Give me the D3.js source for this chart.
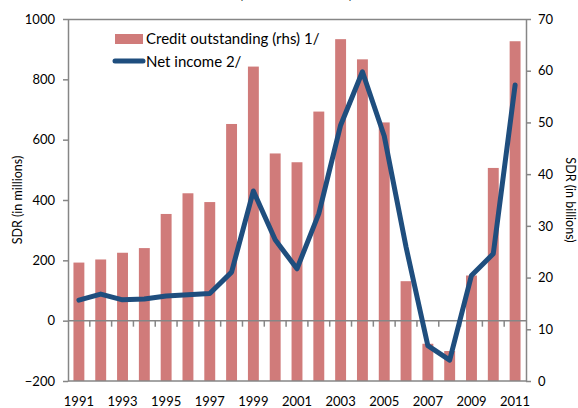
<!DOCTYPE html>
<html lang="en">
  <head>
    <meta charset="utf-8" />
    <title>Credit outstanding and net income</title>
    <script src="https://d3js.org/d3.v7.min.js"></script>
    <style>
      body { margin: 0; background: #fff; }
      text { font-family: Lato, "Open Sans", sans-serif; fill: #000; }
    </style>
  </head>
  <body>
    <div id="graph-container"></div>
    <script>
      // data
      const years = [1991, 1992, 1993, 1994, 1995, 1996, 1997, 1998, 1999, 2000,
        2001, 2002, 2003, 2004, 2005, 2006, 2007, 2008, 2009, 2010, 2011];
      // credit outstanding, SDR billions (rhs)
      const credit = [22.9, 23.5, 24.8, 25.7, 32.3, 36.3, 34.6, 49.7, 60.8, 44.0,
        42.3, 52.1, 66.1, 62.2, 50.0, 19.3, 7.2, 5.8, 20.4, 41.2, 65.7];
      // net income, SDR millions (lhs)
      const netIncome = [68, 88, 69, 72, 82, 86, 90, 161, 430, 268,
        172, 355, 648, 825, 612, 244, -83, -131, 150, 222, 781];
      const leftTicks = [-200, 0, 200, 400, 600, 800, 1000];
      const rightTicks = [0, 10, 20, 30, 40, 50, 60, 70];
      const xLabels = [1991, 1993, 1995, 1997, 1999, 2001, 2003, 2005, 2007, 2009, 2011];

      const cW = 578, cH = 408;
      const pLeft = 68, pRight = 526, pTop = 19, pBottom = 381;
      const cGray = "#868686", cBar = "#d07b7a", cLine = "#1f4e7e";

      const svg = d3.select("#graph-container").append("svg")
        .attr("width", cW).attr("height", cH);

      const xScale = d3.scaleBand().domain(years).range([pLeft, pRight])
        .paddingInner(0.5).paddingOuter(0.25);
      const yLeft = d3.scaleLinear().domain([-200, 1000]).range([pBottom, pTop]);
      const yRight = d3.scaleLinear().domain([0, 70]).range([pBottom, pTop]);

      // title, cut off at the top edge as in the source
      svg.append("text").attr("x", 296).attr("y", -1)
        .attr("text-anchor", "middle").style("font-size", "13px")
        .text("(In millions of SDRs)");

      // bars
      svg.append("g").selectAll("rect").data(credit).enter().append("rect")
        .attr("x", (d, i) => xScale(years[i]))
        .attr("width", xScale.bandwidth())
        .attr("y", (d) => yRight(d))
        .attr("height", (d) => yRight(0) - yRight(d))
        .attr("fill", cBar);

      // frame top
      svg.append("line").attr("x1", pLeft).attr("x2", pRight)
        .attr("y1", pTop + 0.5).attr("y2", pTop + 0.5)
        .attr("stroke", cGray).attr("stroke-width", 1.5);

      // left axis
      const leftAxis = svg.append("g")
        .attr("transform", `translate(${pLeft},0)`)
        .call(d3.axisLeft(yLeft).tickValues(leftTicks).tickFormat(d3.format("d"))
          .tickSize(5).tickPadding(8).tickSizeOuter(0));
      // right axis
      const rightAxis = svg.append("g")
        .attr("transform", `translate(${pRight},0)`)
        .call(d3.axisRight(yRight).tickValues(rightTicks).tickFormat(d3.format("d"))
          .tickSize(5).tickPadding(7).tickSizeOuter(0));
      [leftAxis, rightAxis].forEach((g) => {
        g.select(".domain").attr("stroke", cGray).attr("stroke-width", 1.5);
        g.selectAll(".tick line").attr("stroke", cGray).attr("stroke-width", 1.5);
        g.selectAll(".tick text").style("font-size", "13px").attr("font-family", null);
      });

      // bottom border
      svg.append("line").attr("x1", pLeft).attr("x2", pRight)
        .attr("y1", pBottom).attr("y2", pBottom)
        .attr("stroke", cGray).attr("stroke-width", 1.5);

      // zero line with category boundary ticks
      const y0 = yLeft(0);
      svg.append("line").attr("x1", pLeft).attr("x2", pRight)
        .attr("y1", y0).attr("y2", y0)
        .attr("stroke", cGray).attr("stroke-width", 1.5);
      const step = xScale.step();
      svg.append("g").selectAll("line").data(years.slice(1)).enter().append("line")
        .attr("x1", (d) => xScale(d) - step * 0.25)
        .attr("x2", (d) => xScale(d) - step * 0.25)
        .attr("y1", y0).attr("y2", y0 + 6)
        .attr("stroke", cGray).attr("stroke-width", 1.5);

      // year labels at the bottom
      svg.append("g").selectAll("text").data(xLabels).enter().append("text")
        .attr("x", (d) => xScale(d) + xScale.bandwidth() / 2)
        .attr("y", 406)
        .attr("text-anchor", "middle")
        .style("font-size", "13px")
        .text((d) => d);

      // net income line
      const line = d3.line()
        .x((d, i) => xScale(years[i]) + xScale.bandwidth() / 2)
        .y((d) => yLeft(d));
      svg.append("path").datum(netIncome)
        .attr("d", line)
        .attr("fill", "none")
        .attr("stroke", cLine)
        .attr("stroke-width", 5)
        .attr("stroke-linejoin", "round")
        .attr("stroke-linecap", "round");

      // axis titles
      svg.append("text")
        .attr("transform", "translate(22,200) rotate(-90)")
        .attr("text-anchor", "middle").style("font-size", "12.5px")
        .text("SDR (in millions)");
      svg.append("text")
        .attr("transform", "translate(566,200) rotate(90)")
        .attr("text-anchor", "middle").style("font-size", "12.5px")
        .text("SDR (in billions)");

      // legend
      const legend = svg.append("g");
      legend.append("rect").attr("x", 115).attr("y", 34)
        .attr("width", 28).attr("height", 10).attr("fill", cBar);
      legend.append("text").attr("x", 146).attr("y", 44)
        .style("font-size", "15px").text("Credit outstanding (rhs) 1/");
      legend.append("line").attr("x1", 115).attr("x2", 143)
        .attr("y1", 61).attr("y2", 61)
        .attr("stroke", cLine).attr("stroke-width", 5).attr("stroke-linecap", "round");
      legend.append("text").attr("x", 146).attr("y", 67)
        .style("font-size", "15px").text("Net income 2/");
    </script>
  </body>
</html>
